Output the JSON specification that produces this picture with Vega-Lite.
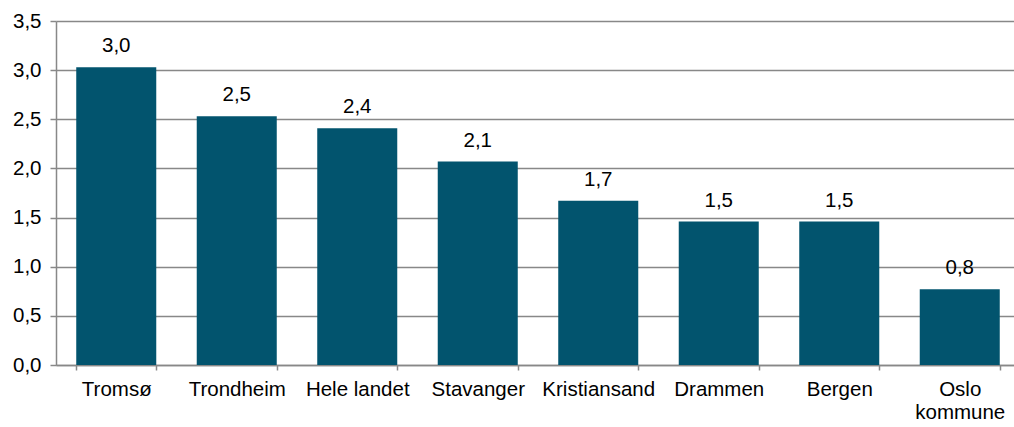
{
  "$schema": "https://vega.github.io/schema/vega-lite/v6.json",
  "autosize": "none",
  "width": 964,
  "height": 344,
  "padding": {"left": 56, "top": 21, "right": 0, "bottom": 62},
  "background": "white",
  "config": {
    "locale": {"number": {"decimal": ",", "thousands": " ", "grouping": [3], "currency": ["", " kr"]}},
    "view": {"stroke": null},
    "font": "Liberation Sans"
  },
  "data": {
    "values": [
      {"sted": "Tromsø", "verdi": 3.03},
      {"sted": "Trondheim", "verdi": 2.53},
      {"sted": "Hele landet", "verdi": 2.41},
      {"sted": "Stavanger", "verdi": 2.07},
      {"sted": "Kristiansand", "verdi": 1.67},
      {"sted": "Drammen", "verdi": 1.46},
      {"sted": "Bergen", "verdi": 1.46},
      {"sted": "Oslo kommune", "verdi": 0.77}
    ]
  },
  "encoding": {
    "x": {
      "field": "sted", "type": "nominal", "sort": null,
      "scale": {"paddingInner": 0.336, "paddingOuter": 0.168},
      "axis": {
        "title": null, "labelAngle": 0, "labelFont": "Liberation Sans", "labelFontSize": 20.5,
        "labelColor": "#000000", "labelPadding": 9, "labelLineHeight": 23,
        "labelExpr": "datum.label == 'Oslo kommune' ? ['Oslo', 'kommune'] : datum.label",
        "domain": true, "domainColor": "#888888", "domainWidth": 1.5,
        "ticks": true, "tickColor": "#888888", "tickSize": 5, "tickWidth": 1.5, "tickBand": "extent",
        "grid": false
      }
    },
    "y": {
      "field": "verdi", "type": "quantitative",
      "scale": {"domain": [0, 3.5], "nice": false},
      "axis": {
        "title": null, "values": [0, 0.5, 1, 1.5, 2, 2.5, 3, 3.5], "format": ".1f",
        "labelFont": "Liberation Sans", "labelFontSize": 20.5, "labelColor": "#000000", "labelPadding": 9,
        "domain": true, "domainColor": "#888888", "domainWidth": 1.5,
        "ticks": true, "tickColor": "#888888", "tickSize": 6, "tickWidth": 1.5,
        "grid": true, "gridColor": "#888888", "gridWidth": 1.5
      }
    }
  },
  "layer": [
    {"mark": {"type": "bar", "color": "#02546E"}},
    {
      "mark": {"type": "text", "baseline": "alphabetic", "dy": -15, "font": "Liberation Sans", "fontSize": 20.5, "color": "#000000"},
      "encoding": {"text": {"field": "verdi", "type": "quantitative", "format": ".1f"}}
    }
  ]
}
